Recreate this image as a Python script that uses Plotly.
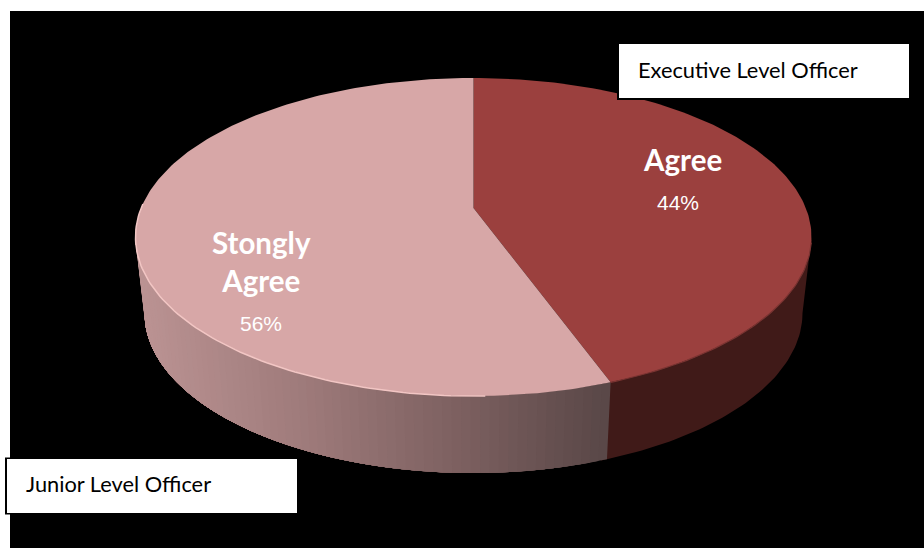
import numpy as np
import plotly.graph_objects as go

# Survey shares and their labels
categories = ["Agree", "Stongly<br>Agree"]
shares = [44, 56]
box_labels = ["Executive Level Officer", "Junior Level Officer"]

# Disc geometry, in page pixels
CX, CY, RX, RY = 473.5, 237.0, 338.0, 159.0      # top face
BX, BY, BRX, BRY = 473.5, 313.0, 329.0, 160.0    # lower rim of the wall
HUB_Y = 208.0                                    # perspective-shifted hub
TILT = -0.105

RED, PINK, RED_WALL = "#9b403e", "#d7a7a7", "#401a18"
WALL_STOPS_X = [135, 300, 460, 610]
WALL_STOPS_RGB = np.array([[188, 148, 148], [160, 124, 124], [126, 97, 97], [90, 72, 72]])


def face_angle(share_done):
    """Clockwise angle on the rim, from 12 o'clock, reached after a cumulative share."""
    t = 2 * np.pi * share_done / sum(shares)
    u, v = np.sin(t), -np.cos(t)
    d = 1 + TILT * v
    return np.arctan2(np.sqrt(1 - TILT ** 2) * u / d, -(v + TILT) / d) % (2 * np.pi)


def rim(a, cx=CX, cy=CY, rx=RX, ry=RY):
    return cx + rx * np.sin(a), cy - ry * np.cos(a)


def add_poly(fig, x, y, color):
    fig.add_trace(go.Scatter(x=x, y=y, mode="lines", fill="toself", fillcolor=color,
                             line=dict(width=0), hoverinfo="skip", showlegend=False))


def add_edge(fig, x, y, color, width):
    fig.add_trace(go.Scatter(x=x, y=y, mode="lines", line=dict(color=color, width=width),
                             hoverinfo="skip", showlegend=False))


def wall_color(x):
    return "rgb(%d,%d,%d)" % tuple(np.interp(x, WALL_STOPS_X, WALL_STOPS_RGB[:, i]) for i in range(3))


fig = go.Figure()
split = face_angle(shares[0])

# Side wall: flat on the red slice, banded shading on the pink one.
# Each band runs on under the next one so no seams show between them.
a = np.linspace(np.pi / 2, split + 0.02, 60)
x0, y0 = rim(a)
x1, y1 = rim(a, BX, BY, BRX, BRY)
add_poly(fig, np.r_[x0, x1[::-1], x0[0]], np.r_[y0, y1[::-1], y0[0]], RED_WALL)

end = 3 * np.pi / 2
edges = np.linspace(split, end, 71)
for a0 in edges[:-1]:
    a = np.linspace(a0, end, 40)
    x0, y0 = rim(a)
    x1, y1 = rim(a, BX, BY, BRX, BRY)
    add_poly(fig, np.r_[x0, x1[::-1], x0[0]], np.r_[y0, y1[::-1], y0[0]], wall_color(x0[0]))

# Top face
a = np.linspace(0, split, 160)
x, y = rim(a)
add_poly(fig, np.r_[CX, x, CX], np.r_[HUB_Y, y, HUB_Y], RED)
a = np.linspace(split, 2 * np.pi, 220)
x, y = rim(a)
add_poly(fig, np.r_[CX, x, CX], np.r_[HUB_Y, y, HUB_Y], PINK)

# Bevels along the front rim
a = np.linspace(np.radians(178), np.radians(282), 90)
add_edge(fig, *rim(a), "#f2c6c4", 1.5)
a = np.linspace(np.radians(92), split, 60)
add_edge(fig, *rim(a), "#7a3432", 1.2)

shapes = [
    dict(type="rect", x0=10, x1=924, y0=11, y1=548, fillcolor="black", line_width=0, layer="below"),
    dict(type="rect", x0=617, x1=907, y0=46, y1=100, fillcolor="black", line_width=0),
    dict(type="rect", x0=619, x1=909, y0=44, y1=98, fillcolor="white", line_width=0),
    dict(type="rect", x0=5, x1=297, y0=457.5, y1=514.5, fillcolor="black", line_width=0),
    dict(type="rect", x0=7, x1=297, y0=459, y1=513, fillcolor="white", line_width=0),
]


def label(text, x, y, size, family, color="white", bold=False, anchor="center"):
    return dict(x=x, y=y, text=f"<b>{text}</b>" if bold else text, showarrow=False, xanchor=anchor,
                yanchor="middle", font=dict(family=family, size=size, color=color), align="center")


annotations = [
    label(categories[0], 682, 159.5, 29.5, "Lato", bold=True),
    label(f"{shares[0]}%", 678, 202.5, 21, "Liberation Sans"),
    label(categories[1], 261, 261, 29.5, "Lato", bold=True),
    label(f"{shares[1]}%", 261, 323, 21, "Liberation Sans"),
    label(box_labels[0], 636, 69, 21.8, "Lato", color="black", anchor="left"),
    label(box_labels[1], 24, 483, 21.8, "Lato", color="black", anchor="left"),
]

fig.update_layout(
    width=924, height=548, margin=dict(l=0, r=0, t=0, b=0),
    paper_bgcolor="white", plot_bgcolor="white", showlegend=False,
    xaxis=dict(range=[0, 924], visible=False, fixedrange=True),
    yaxis=dict(range=[548, 0], visible=False, fixedrange=True),
    shapes=shapes, annotations=annotations,
)
fig.write_html("out.html", config=dict(displayModeBar=False))
